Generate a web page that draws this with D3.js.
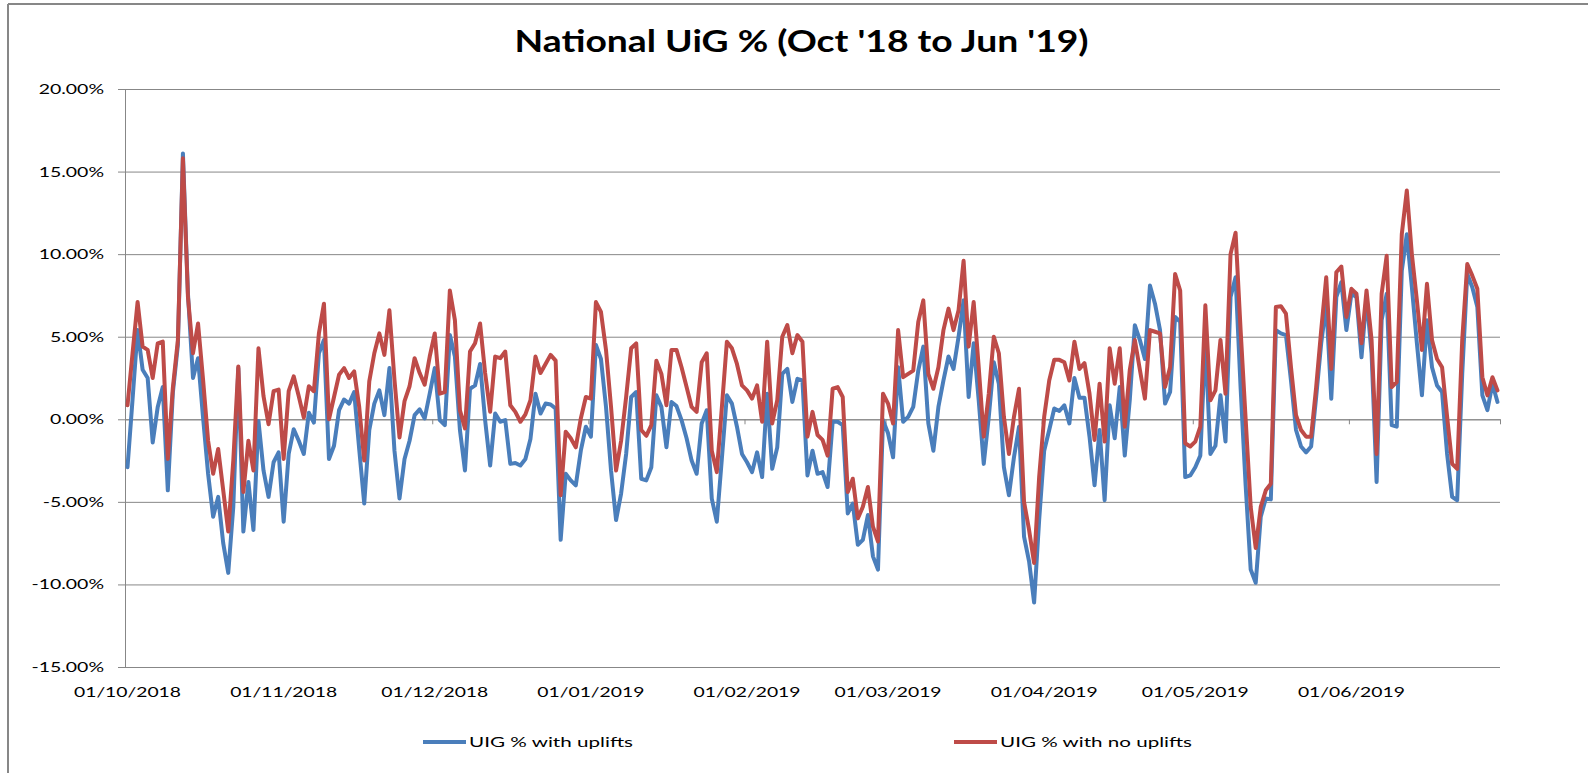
<!DOCTYPE html>
<html>
<head>
<meta charset="utf-8">
<script src="https://cdn.jsdelivr.net/npm/d3@7"></script>
<style>
  body { margin: 0; background: #fff; }
  svg { display: block; }
  text { font-family: Lato, "Liberation Sans", sans-serif; fill: #000; }
</style>
</head>
<body>
<svg id="chart" width="1588" height="773"></svg>
<script>
// ---- data ----
const title = "National UiG % (Oct '18 to Jun '19)";
const seriesNames = ["UIG % with uplifts", "UIG % with no uplifts"];
const firstDay = "01/10/2018";
const lastDay = "30/06/2019";
const tickLabels = ["01/10/2018", "01/11/2018", "01/12/2018", "01/01/2019", "01/02/2019",
  "01/03/2019", "01/04/2019", "01/05/2019", "01/06/2019"];
const yTicks = [20, 15, 10, 5, 0, -5, -10, -15];

// daily UIG %, one value per day from 01/10/2018 to 30/06/2019
const uplifts = [
  -2.9, 1.2, 5.4, 3.0, 2.5, -1.4, 0.75, 1.95, -4.3, 1.6,
  4.5, 16.1, 7.6, 2.5, 3.7, 0.1, -3.3, -5.9, -4.7, -7.5,
  -9.3, -5.3, 3.1, -6.8, -3.8, -6.7, -0.1, -3.1, -4.7, -2.6,
  -2.0, -6.2, -2.1, -0.6, -1.3, -2.1, 0.4, -0.2, 4.0, 4.8,
  -2.4, -1.6, 0.55, 1.2, 0.95, 1.65, -1.8, -5.1, -0.65, 0.95,
  1.75, 0.25, 3.1, -1.9, -4.8, -2.4, -1.3, 0.25, 0.6, 0.05,
  1.55, 3.1, -0.05, -0.35, 5.1, 3.8, -0.65, -3.1, 1.85, 2.05,
  3.35, -0.05, -2.8, 0.35, -0.15, -0.05, -2.7, -2.65, -2.8, -2.4,
  -1.2, 1.55, 0.35, 0.95, 0.9, 0.65, -7.3, -3.3, -3.7, -4.0,
  -1.9, -0.45, -1.05, 4.5, 3.65, 0.75, -3.1, -6.1, -4.5, -2.1,
  1.35, 1.65, -3.6, -3.7, -2.9, 1.45, 0.75, -1.7, 1.05, 0.8,
  -0.05, -1.15, -2.5, -3.3, -0.25, 0.55, -4.8, -6.2, -2.4, 1.45,
  0.95, -0.45, -2.1, -2.6, -3.2, -2.0, -3.5, 1.55, -3.0, -1.7,
  2.75, 3.05, 1.05, 2.45, 2.35, -3.4, -1.9, -3.3, -3.2, -4.1,
  -0.15, -0.15, -0.35, -5.7, -5.1, -7.6, -7.3, -5.8, -8.3, -9.1,
  -0.05, -0.85, -2.3, 3.15, -0.15, 0.15, 0.75, 2.95, 4.4, -0.25,
  -1.9, 0.75, 2.35, 3.8, 3.05, 5.0, 7.2, 1.35, 4.6, 1.15,
  -2.7, 0.15, 3.45, 2.15, -2.9, -4.6, -2.3, -0.45, -7.1, -8.6,
  -11.1, -6.1, -1.9, -0.65, 0.65, 0.5, 0.85, -0.25, 2.5, 1.3,
  1.3, -1.05, -4.0, -0.65, -4.9, 0.85, -1.15, 1.95, -2.2, 1.2,
  5.7, 4.8, 3.65, 8.1, 7.0, 5.4, 0.95, 1.65, 6.2, 5.9,
  -3.5, -3.4, -2.9, -2.2, 4.8, -2.1, -1.6, 1.45, -1.35, 7.4,
  8.6, 1.9, -4.0, -9.1, -9.9, -5.9, -4.8, -4.85, 5.4, 5.2,
  5.1, 2.35, -0.65, -1.65, -2.0, -1.65, 1.35, 4.6, 7.0, 1.25,
  7.4, 8.3, 5.4, 7.6, 7.4, 3.75, 7.4, 4.0, -3.8, 6.0,
  7.6, -0.35, -0.45, 9.0, 11.2, 8.0, 4.6, 1.45, 6.0, 3.15,
  2.05, 1.65, -2.1, -4.7, -4.9, 2.75, 8.8, 8.0, 6.8, 1.45,
  0.55, 2.15, 1.05
];

const noUplifts = [
  0.85, 4.0, 7.1, 4.4, 4.2, 2.5, 4.6, 4.7, -2.4, 1.9,
  4.8, 15.8, 7.4, 4.0, 5.8, 2.4, -1.3, -3.3, -1.8, -4.3,
  -6.8, -2.5, 3.2, -4.4, -1.3, -3.1, 4.3, 1.4, -0.3, 1.7,
  1.8, -2.4, 1.7, 2.6, 1.4, 0.1, 2.0, 1.7, 5.2, 7.0,
  0.0, 1.35, 2.7, 3.1, 2.5, 2.9, 0.75, -2.5, 2.3, 4.0,
  5.2, 3.9, 6.6, 2.4, -1.1, 1.1, 2.0, 3.7, 2.8, 2.1,
  3.8, 5.2, 1.55, 1.65, 7.8, 6.0, 0.55, -0.55, 4.1, 4.6,
  5.8, 2.8, 0.45, 3.8, 3.7, 4.1, 0.85, 0.45, -0.15, 0.3,
  1.15, 3.8, 2.8, 3.35, 3.9, 3.55, -4.6, -0.75, -1.15, -1.7,
  0.05, 1.35, 1.25, 7.1, 6.5, 4.2, 0.75, -3.1, -1.3, 1.35,
  4.3, 4.6, -0.65, -1.0, -0.35, 3.55, 2.75, 0.85, 4.2, 4.2,
  3.15, 1.95, 0.75, 0.45, 3.45, 4.0, -1.9, -3.2, 0.7, 4.7,
  4.3, 3.35, 2.05, 1.75, 1.25, 2.05, -0.15, 4.7, -0.25, 1.15,
  5.0, 5.7, 4.0, 5.1, 4.7, -1.05, 0.45, -0.95, -1.25, -2.2,
  1.85, 1.95, 1.35, -4.4, -3.6, -6.0, -5.3, -4.1, -6.5, -7.4,
  1.55, 0.95, -0.25, 5.4, 2.55, 2.75, 2.95, 5.9, 7.2, 2.75,
  1.85, 3.15, 5.4, 6.7, 5.4, 6.6, 9.6, 4.4, 7.1, 3.15,
  -1.05, 1.55, 5.0, 4.0, 0.15, -2.1, 0.15, 1.85, -5.0, -6.7,
  -8.7, -3.5, 0.15, 2.35, 3.6, 3.6, 3.45, 2.35, 4.7, 3.05,
  3.4, 1.55, -1.25, 2.15, -1.35, 4.3, 2.15, 4.3, -0.45, 3.0,
  4.8, 3.0, 1.25, 5.4, 5.3, 5.2, 1.95, 3.15, 8.8, 7.8,
  -1.45, -1.65, -1.35, -0.45, 6.9, 1.15, 1.75, 4.8, 1.55, 10.0,
  11.3, 5.4, 0.0, -5.3, -7.8, -5.3, -4.3, -3.9, 6.8, 6.85,
  6.4, 3.15, 0.25, -0.65, -1.05, -1.05, 1.95, 5.4, 8.6, 3.05,
  8.9, 9.25, 6.2, 7.9, 7.6, 4.6, 7.8, 4.8, -2.1, 7.6,
  9.9, 1.95, 2.25, 11.2, 13.85, 10.0, 7.2, 4.2, 8.2, 4.8,
  3.65, 3.15, 0.15, -2.7, -3.0, 4.8, 9.4, 8.7, 7.9, 2.55,
  1.45, 2.55, 1.75
];

// ---- setup ----
const parse = d3.utcParse("%d/%m/%Y");
const start = parse(firstDay);
const end = d3.utcDay.offset(parse(lastDay), 1);
const days = d3.utcDay.range(start, end);

const grey = "#878787";
const blue = "#4a7ebb";
const red = "#be4b48";

const plot = { left: 125, right: 1500, top: 89, bottom: 667 };

const x = d3.scaleUtc().domain([start, end]).range([plot.left, plot.right]);
const y = d3.scaleLinear().domain([-15, 20]).range([plot.bottom, plot.top]);
const midDay = d => x(d3.utcHour.offset(d, 12));

const svg = d3.select("#chart");

// stretch text horizontally (original chart is widened)
function stretch(sel, k) {
  sel.attr("lengthAdjust", "spacingAndGlyphs")
    .attr("textLength", function () { return this.getComputedTextLength() * k; });
}

// chart border (top + left)
svg.append("line").attr("x1", 8).attr("x2", 1588).attr("y1", 4).attr("y2", 4)
  .attr("stroke", grey).attr("stroke-width", 2);
svg.append("line").attr("x1", 8).attr("x2", 8).attr("y1", 4).attr("y2", 773)
  .attr("stroke", grey).attr("stroke-width", 2);

// title
svg.append("text")
  .attr("x", 801.6).attr("y", 51.5)
  .attr("text-anchor", "middle")
  .attr("font-size", 31).attr("font-weight", "bold")
  .attr("lengthAdjust", "spacingAndGlyphs").attr("textLength", 574)
  .text(title);

// gridlines
svg.append("g")
  .attr("transform", `translate(${plot.left},0)`)
  .call(d3.axisLeft(y).tickValues(yTicks).tickSize(-(plot.right - plot.left)).tickFormat(""))
  .call(g => g.select(".domain").remove())
  .call(g => g.selectAll("line").attr("stroke", grey));

// y axis
const yAxis = svg.append("g")
  .attr("transform", `translate(${plot.left},0)`)
  .call(d3.axisLeft(y).tickValues(yTicks).tickSizeInner(7).tickSizeOuter(0).tickPadding(14)
    .tickFormat(v => v.toFixed(2) + "%"));
yAxis.select(".domain").attr("stroke", grey);
yAxis.selectAll("line").attr("stroke", grey);
yAxis.selectAll("text").attr("font-size", 14).attr("font-family", "Lato, 'Liberation Sans', sans-serif")
  .attr("fill", "#000").call(stretch, 1.39);

// x axis on the zero line: month ticks only
const monthDates = tickLabels.map(parse).concat([end]);
const xAxis = svg.append("g")
  .attr("transform", `translate(0,${y(0)})`)
  .call(d3.axisBottom(x).tickValues(monthDates).tickSizeInner(5).tickSizeOuter(0).tickFormat(""));
xAxis.select(".domain").attr("stroke", grey);
xAxis.selectAll("line").attr("stroke", grey);

// x labels at the bottom
svg.append("g")
  .selectAll("text")
  .data(tickLabels)
  .join("text")
  .attr("x", d => midDay(parse(d)))
  .attr("y", 692)
  .attr("dy", "0.35em")
  .attr("text-anchor", "middle")
  .attr("font-size", 14)
  .attr("lengthAdjust", "spacingAndGlyphs").attr("textLength", 107)
  .text(d => d);

// series lines
const line = d3.line()
  .x((v, i) => midDay(days[i]))
  .y(v => y(v));

[[uplifts, blue], [noUplifts, red]].forEach(([values, color]) => {
  svg.append("path")
    .datum(values)
    .attr("fill", "none")
    .attr("stroke", color)
    .attr("stroke-width", 4)
    .attr("stroke-linejoin", "round")
    .attr("stroke-linecap", "round")
    .attr("d", line);
});

// legend
const legendItems = [
  { name: seriesNames[0], color: blue, x: 423, width: 164 },
  { name: seriesNames[1], color: red, x: 954, width: 192 }
];
const legend = svg.append("g").selectAll("g").data(legendItems).join("g")
  .attr("transform", d => `translate(${d.x},742)`);
legend.append("line").attr("x1", 0).attr("x2", 43)
  .attr("stroke", d => d.color).attr("stroke-width", 4);
legend.append("text").attr("x", 46).attr("dy", "0.35em")
  .attr("font-size", 14)
  .attr("lengthAdjust", "spacingAndGlyphs").attr("textLength", d => d.width)
  .text(d => d.name);
</script>
</body>
</html>
